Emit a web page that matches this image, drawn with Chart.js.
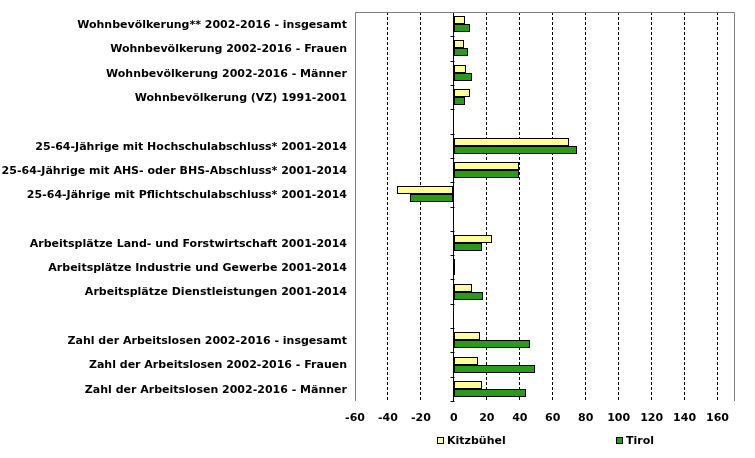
<!DOCTYPE html>
<html><head><meta charset="utf-8">
<script src="https://cdn.jsdelivr.net/npm/chart.js@4.4.1/dist/chart.umd.min.js"></script>
<style>html,body{margin:0;padding:0;background:#fff}</style>
</head><body>
<canvas id="c" width="755" height="458"></canvas>
<script>
const categories = [
  "Wohnbevölkerung** 2002-2016 - insgesamt",
  "Wohnbevölkerung 2002-2016 - Frauen",
  "Wohnbevölkerung 2002-2016 - Männer",
  "Wohnbevölkerung (VZ) 1991-2001",
  "",
  "25-64-Jährige mit Hochschulabschluss* 2001-2014",
  "25-64-Jährige mit AHS- oder BHS-Abschluss* 2001-2014",
  "25-64-Jährige mit Pflichtschulabschluss* 2001-2014",
  "",
  "Arbeitsplätze Land- und Forstwirtschaft 2001-2014",
  "Arbeitsplätze Industrie und Gewerbe 2001-2014",
  "Arbeitsplätze Dienstleistungen 2001-2014",
  "",
  "Zahl der Arbeitslosen 2002-2016 - insgesamt",
  "Zahl der Arbeitslosen 2002-2016 - Frauen",
  "Zahl der Arbeitslosen 2002-2016 - Männer"
];
const seriesNames = ["Kitzbühel", "Tirol"];
const kitzbuehel = [6.7, 6.1, 7.3, 9.7, null, 69.7, 39.4, -34.5, null, 23.0, 0.8, 10.9, null, 15.8, 14.8, 17.2];
const tirol      = [9.7, 8.5, 10.9, 6.7, null, 74.5, 39.4, -26.7, null, 17.2, 0.7, 17.8, null, 46.1, 49.1, 43.6];
const xTickValues = [-60, -40, -20, 0, 20, 40, 60, 80, 100, 120, 140, 160];
const xMin = -60, xMax = 170;

const FONT = "'DejaVu Sans', Verdana, sans-serif";
const yellow = "#FFFF99", green = "#2B991B";

const decorPlugin = {
  id: 'decor',
  beforeDatasetsDraw(chart) {
    const ctx = chart.ctx;
    const xs = chart.scales.x, ys = chart.scales.y;
    // snap bar geometry (computed by the library) to whole pixels for crisp borders
    chart.data.datasets.forEach((d, di) => {
      const meta = chart.getDatasetMeta(di);
      meta.data.forEach(el => {
        const h = Math.round(el.height);
        const top = Math.round(el.y - el.height / 2);
        el.height = h;
        el.y = top + h / 2;
        el.x = Math.round(el.x);
        el.base = Math.round(el.base);
      });
    });
    const x0 = Math.round(xs.getPixelForValue(0)) + 0.5;
    const n = categories.length;
    const band = (ys.bottom - ys.top) / n;
    ctx.save();
    ctx.strokeStyle = '#000';
    ctx.lineWidth = 1;
    for (let i = 0; i <= n; i++) {
      const y = Math.round(ys.top + i * band) + 0.5;
      ctx.beginPath();
      ctx.moveTo(x0 - 4, y);
      ctx.lineTo(x0, y);
      ctx.stroke();
    }
    ctx.restore();
  },
  afterDraw(chart) {
    const ctx = chart.ctx, ca = chart.chartArea;
    ctx.save();
    ctx.strokeStyle = '#808080';
    ctx.lineWidth = 1;
    ctx.beginPath();
    const l = Math.round(ca.left) + 0.5, r = Math.round(ca.right) + 0.5, t = Math.round(ca.top) + 0.5;
    ctx.moveTo(l, Math.round(ca.bottom));
    ctx.lineTo(l, t);
    ctx.lineTo(r, t);
    ctx.lineTo(r, Math.round(ca.bottom));
    ctx.stroke();
    const items = chart.data.datasets.map(d => ({text: d.label, color: d.backgroundColor}));
    const pos = [ca.left + 82, ca.left + 261];
    const ly = 437;
    ctx.font = "bold 11px " + FONT;
    ctx.textBaseline = 'middle';
    ctx.textAlign = 'left';
    items.forEach((it, i) => {
      const x = Math.round(pos[i]);
      ctx.fillStyle = it.color;
      ctx.fillRect(x, ly, 7, 7);
      ctx.strokeStyle = '#000';
      ctx.strokeRect(x + 0.5, ly + 0.5, 6, 6);
      ctx.fillStyle = '#000';
      ctx.fillText(it.text, x + 10, ly + 4.5);
    });
    ctx.restore();
  }
};

new Chart(document.getElementById('c'), {
  type: 'bar',
  data: {
    labels: categories,
    datasets: [
      {label: seriesNames[0], data: kitzbuehel, backgroundColor: yellow, borderColor: '#000', borderWidth: 1},
      {label: seriesNames[1], data: tirol, backgroundColor: green, borderColor: '#000', borderWidth: 1}
    ]
  },
  options: {
    indexAxis: 'y',
    responsive: false,
    animation: false,
    devicePixelRatio: 1,
    layout: {padding: {top: 12, right: 21, left: 0, bottom: 0}},
    datasets: {bar: {categoryPercentage: 0.66, barPercentage: 1.0, borderSkipped: false}},
    plugins: {legend: {display: false}, tooltip: {enabled: false}},
    scales: {
      x: {
        min: xMin, max: xMax,
        afterBuildTicks(scale) { scale.ticks = xTickValues.map(v => ({value: v})); },
        afterFit(scale) { scale.height = 57; scale.paddingLeft = 0; scale.paddingRight = 0; },
        grid: {
          drawTicks: false,
          color: c => (c.tick && c.tick.value === -60) ? '#808080' : '#000',
          lineWidth: 1
        },
        border: {display: false, color: 'rgba(0,0,0,0)', dash: c => (c.tick && (c.tick.value === 0 || c.tick.value === -60)) ? [] : [3, 2]},
        ticks: {padding: 11, color: '#000', font: {family: FONT, size: 11, weight: 'bold'}}
      },
      y: {
        afterFit(scale) { scale.width = 355; scale.paddingTop = 0; scale.paddingBottom = 0; },
        grid: {display: false, drawTicks: false},
        border: {display: false, color: 'rgba(0,0,0,0)'},
        ticks: {padding: 8, labelOffset: 1, color: '#000', autoSkip: false, font: {family: FONT, size: 11, weight: 'bold'}}
      }
    }
  },
  plugins: [decorPlugin]
});
</script>
</body></html>
